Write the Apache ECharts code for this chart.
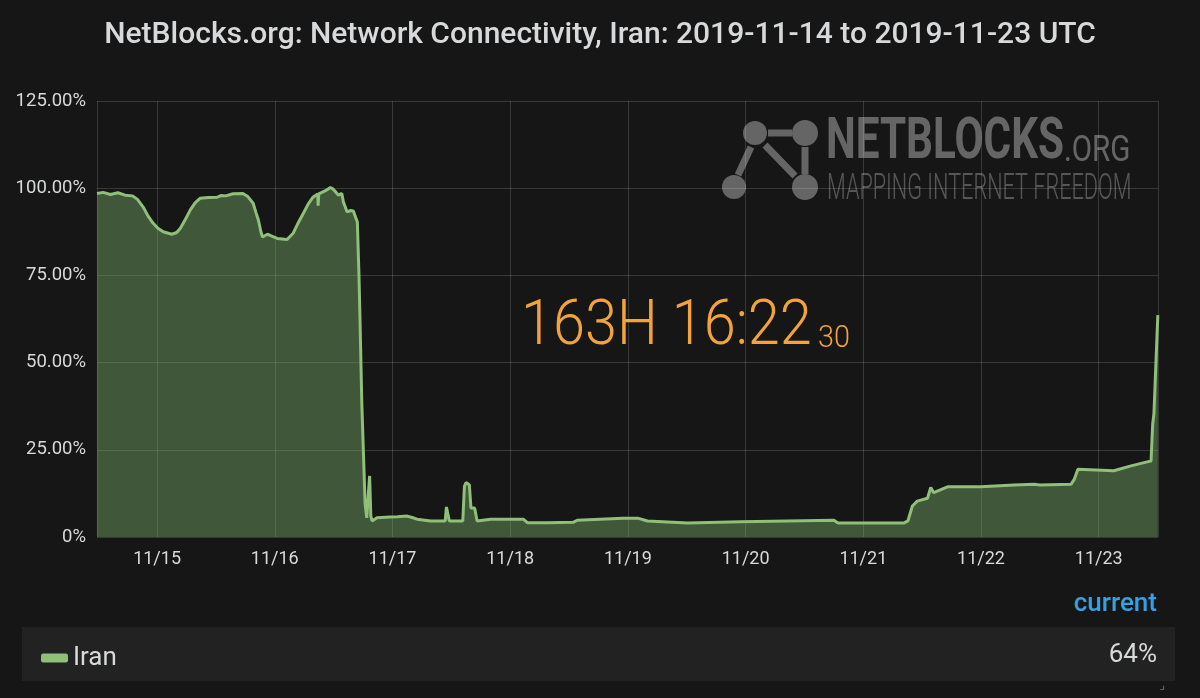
<!DOCTYPE html>
<html>
<head>
<meta charset="utf-8">
<script src="https://cdn.jsdelivr.net/npm/echarts@6/dist/echarts.min.js"></script>
<style>
html,body{margin:0;padding:0;background:#161616;}
#chart{width:1200px;height:698px;}
</style>
</head>
<body>
<div id="chart"></div>
<script>
// ---- data ----
const seriesName = 'Iran';
const titleText = 'NetBlocks.org: Network Connectivity, Iran: 2019-11-14 to 2019-11-23 UTC';
const xMin = '2019-11-14 11:45';
const xMax = '2019-11-23 12:05';
const yTicks = [0, 25, 50, 75, 100, 125];

const times = [
 '2019-11-14 11:45','2019-11-14 13:00','2019-11-14 14:30','2019-11-14 16:00','2019-11-14 17:30',
 '2019-11-14 19:00','2019-11-14 20:00','2019-11-14 21:10','2019-11-14 22:10','2019-11-14 23:10',
 '2019-11-15 00:10','2019-11-15 01:15','2019-11-15 03:00','2019-11-15 04:00','2019-11-15 04:45',
 '2019-11-15 05:45','2019-11-15 06:45','2019-11-15 07:45','2019-11-15 08:45','2019-11-15 10:30',
 '2019-11-15 12:15','2019-11-15 13:00','2019-11-15 14:00','2019-11-15 15:30','2019-11-15 17:30',
 '2019-11-15 18:30','2019-11-15 19:35','2019-11-15 20:10','2019-11-15 20:40','2019-11-15 21:10',
 '2019-11-15 21:30','2019-11-15 22:30','2019-11-15 23:30','2019-11-16 00:30','2019-11-16 02:30',
 '2019-11-16 03:45','2019-11-16 04:45','2019-11-16 05:50','2019-11-16 06:50','2019-11-16 07:50',
 '2019-11-16 08:45','2019-11-16 08:50','2019-11-16 08:58','2019-11-16 09:20','2019-11-16 10:20',
 '2019-11-16 11:20','2019-11-16 11:50','2019-11-16 12:30','2019-11-16 13:00','2019-11-16 13:40',
 '2019-11-16 14:00','2019-11-16 14:45','2019-11-16 15:30','2019-11-16 16:00','2019-11-16 16:50',
 '2019-11-16 17:10','2019-11-16 17:20','2019-11-16 17:45','2019-11-16 18:25','2019-11-16 18:45',
 '2019-11-16 19:05','2019-11-16 19:20','2019-11-16 19:35','2019-11-16 19:50','2019-11-16 20:50',
 '2019-11-16 23:30','2019-11-17 01:00','2019-11-17 03:00','2019-11-17 04:00','2019-11-17 05:00',
 '2019-11-17 07:45','2019-11-17 10:45','2019-11-17 11:00','2019-11-17 11:20','2019-11-17 11:35',
 '2019-11-17 14:20','2019-11-17 14:40','2019-11-17 15:00','2019-11-17 15:40','2019-11-17 16:00',
 '2019-11-17 16:45','2019-11-17 17:15','2019-11-17 20:00','2019-11-18 02:40','2019-11-18 03:30',
 '2019-11-18 07:40','2019-11-18 12:50','2019-11-18 13:40','2019-11-18 23:00','2019-11-19 02:00',
 '2019-11-19 04:00','2019-11-19 12:10','2019-11-19 23:00','2019-11-20 18:00','2019-11-20 18:50',
 '2019-11-21 08:15','2019-11-21 09:05','2019-11-21 10:00','2019-11-21 11:00','2019-11-21 13:05',
 '2019-11-21 13:45','2019-11-21 14:20','2019-11-21 17:10','2019-11-22 00:00','2019-11-22 06:45',
 '2019-11-22 10:50','2019-11-22 11:10','2019-11-22 12:00','2019-11-22 18:20','2019-11-22 19:00',
 '2019-11-22 19:45','2019-11-23 03:05','2019-11-23 06:35','2019-11-23 10:05','2019-11-23 10:40',
 '2019-11-23 11:00','2019-11-23 11:15','2019-11-23 12:03'
];
const values = [
 98.5, 98.8, 98.2, 98.7, 98.0,
 97.8, 96.8, 94.6, 92.0, 90.0,
 88.5, 87.5, 86.8, 87.3, 88.5,
 91.0, 93.7, 95.8, 97.1, 97.3,
 97.4, 97.9, 97.8, 98.4, 98.5,
 97.6, 95.7, 93.0, 90.8, 87.5,
 86.0, 86.8, 86.2, 85.6, 85.3,
 87.1, 90.0, 92.8, 95.5, 97.5,
 98.3, 95.0, 98.4, 98.6, 99.3,
 100.2, 99.8, 98.8, 98.0, 98.5,
 96.0, 93.2, 93.6, 93.5, 90.3,
 75.0, 65.0, 38.0, 9.5, 5.5,
 6.0, 17.5, 6.0, 4.6, 5.5,
 5.7, 5.8, 6.0, 5.6, 5.1,
 4.6, 4.6, 8.6, 8.6, 4.6,
 4.6, 14.5, 15.6, 15.0, 8.3,
 8.3, 4.6, 5.1, 5.1, 4.1,
 4.1, 4.2, 4.8, 5.4, 5.4,
 4.6, 4.0, 4.4, 4.8, 4.0,
 4.0, 4.6, 8.9, 10.3, 11.1,
 14.2, 12.7, 14.4, 14.4, 14.9,
 15.1, 14.6, 14.9, 15.1, 16.5,
 19.4, 19.0, 20.4, 21.6, 21.8,
 32.4, 35.3, 63.6
];
// ---------------------------------------

const seriesData = times.map((t, i) => [t, values[i]]);
const currentValue = Math.round(values[values.length - 1]) + '%';

const pad = n => (n < 10 ? '0' : '') + n;
const chart = echarts.init(document.getElementById('chart'), null, {renderer: 'canvas'});

const logoColor = 'rgba(255,255,255,0.34)';
const timerColor = '#f2a33a';
const option = {
  backgroundColor: '#161616',
  animation: false,
  title: {
    text: titleText,
    left: 'center',
    top: 15,
    textStyle: {color: '#d8d9da', fontFamily: 'Roboto', fontWeight: 500, fontSize: 30}
  },
  grid: {left: 97, right: 42, top: 101, bottom: 161},
  xAxis: {
    type: 'time',
    min: xMin,
    max: xMax,
    minInterval: 86400000,
    maxInterval: 86400000,
    axisLine: {show: false},
    axisTick: {show: false},
    splitLine: {show: true, lineStyle: {color: 'rgba(255,255,255,0.15)', width: 1}},
    axisLabel: {
      color: '#d8d9da', fontFamily: 'Roboto', fontSize: 18, margin: 13,
      formatter: function (v) {
        const d = new Date(v);
        if (d.getHours() !== 0 || d.getMinutes() !== 0) return '';
        return pad(d.getMonth() + 1) + '/' + pad(d.getDate());
      }
    }
  },
  yAxis: {
    type: 'value',
    min: yTicks[0],
    max: yTicks[yTicks.length - 1],
    interval: yTicks[1] - yTicks[0],
    axisLine: {show: false},
    axisTick: {show: false},
    splitLine: {show: true, lineStyle: {color: 'rgba(255,255,255,0.15)', width: 1}},
    axisLabel: {
      color: '#d8d9da', fontFamily: 'Roboto', fontSize: 18.5, margin: 11,
      formatter: v => (v === 0 ? '0%' : v.toFixed(2) + '%')
    }
  },
  legend: {
    left: 36, top: 640,
    icon: 'roundRect', itemWidth: 27, itemHeight: 9, itemGap: 10,
    textStyle: {color: '#d8d9da', fontFamily: 'Roboto', fontSize: 26},
    data: [seriesName]
  },
  series: [{
    name: seriesName,
    type: 'line',
    data: seriesData,
    showSymbol: false,
    symbol: 'none',
    z: 3,
    itemStyle: {color: '#8fbf78'},
    lineStyle: {color: '#8fbf78', width: 3},
    areaStyle: {color: '#7eb26d', opacity: 0.42}
  }],
  graphic: [
    // legend table background
    {type: 'rect', z: -10, shape: {x: 22, y: 627, width: 1153, height: 54}, style: {fill: '#222222'}},
    {type: 'text', x: 1157, y: 604, style: {text: 'current', fill: '#33a2e5', font: '500 26px Roboto', align: 'right', verticalAlign: 'middle'}},
    {type: 'text', x: 1157, y: 655, style: {text: currentValue, fill: '#d8d9da', font: '26px Roboto', align: 'right', verticalAlign: 'middle'}},
    {type: 'text', x: 1162, y: 686, style: {text: '⌟', fill: '#777', font: '12px DejaVu Sans', align: 'center', verticalAlign: 'middle'}},
    // timer
    {type: 'text', x: 521, y: 328, scaleX: 0.915, style: {text: '163H 16:22', fill: timerColor, font: '300 63px Roboto', align: 'left', verticalAlign: 'middle'}},
    {type: 'text', x: 818, y: 339, scaleX: 0.9, style: {text: '30', fill: timerColor, font: '300 32px Roboto', align: 'left', verticalAlign: 'middle'}},
    // watermark logo
    {type: 'group', z: 1, children: [
      {type: 'line', shape: {x1: 768, y1: 133, x2: 792, y2: 133}, style: {stroke: logoColor, lineWidth: 7}},
      {type: 'line', shape: {x1: 751, y1: 147, x2: 738, y2: 175}, style: {stroke: logoColor, lineWidth: 7}},
      {type: 'line', shape: {x1: 765, y1: 145, x2: 795, y2: 176}, style: {stroke: logoColor, lineWidth: 7}},
      {type: 'line', shape: {x1: 805, y1: 147, x2: 805, y2: 174}, style: {stroke: logoColor, lineWidth: 7}},
      {type: 'circle', shape: {cx: 755, cy: 133, r: 12}, style: {fill: logoColor}},
      {type: 'circle', shape: {cx: 805, cy: 133, r: 13}, style: {fill: logoColor}},
      {type: 'circle', shape: {cx: 734, cy: 187, r: 12}, style: {fill: logoColor}},
      {type: 'circle', shape: {cx: 805, cy: 187, r: 13}, style: {fill: logoColor}},
      {type: 'text', x: 826, y: 144, scaleX: 0.74, style: {text: 'NETBLOCKS', fill: logoColor, font: 'bold 57px Roboto', align: 'left', verticalAlign: 'middle'}},
      {type: 'text', x: 1064, y: 152, scaleX: 0.82, style: {text: '.ORG', fill: logoColor, font: '36px Roboto', align: 'left', verticalAlign: 'middle'}},
      {type: 'text', x: 827, y: 190, scaleX: 0.585, style: {text: 'MAPPING INTERNET FREEDOM', fill: 'rgba(255,255,255,0.28)', font: '300 37px Roboto', align: 'left', verticalAlign: 'middle'}}
    ]}
  ]
};
chart.setOption(option);
</script>
</body>
</html>
